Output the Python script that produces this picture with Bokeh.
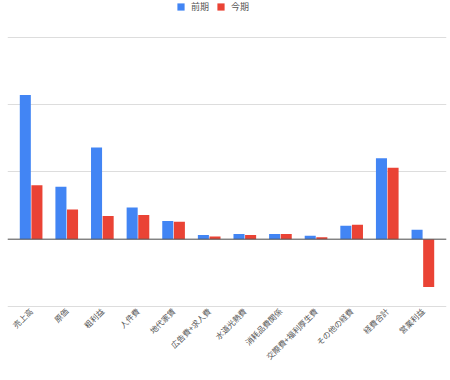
import math
from bokeh.plotting import figure
from bokeh.models import (ColumnDataSource, FactorRange, Legend, LegendItem,
                          FixedTicker, Span)
from bokeh.transform import dodge
from bokeh.embed import file_html
from bokeh.resources import INLINE

categories = ["売上高", "原価", "粗利益", "人件費", "地代家賃", "広告費+求人費",
              "水道光熱費", "消耗品費関係", "交際費+福利厚生費", "その他の経費",
              "経費合計", "営業利益"]
prev_period = [2140, 780, 1360, 470, 270, 60, 75, 75, 50, 200, 1200, 140]
curr_period = [800, 440, 345, 360, 260, 40, 60, 75, 30, 215, 1060, -710]
series_names = ["前期", "今期"]
y_ticks = [-1000, 0, 1000, 2000, 3000]

FONT = "Noto Sans CJK JP"
BLUE = "#4285F4"
RED = "#EA4335"
FRAME_H = 308

src = ColumnDataSource(dict(cat=categories, prev=prev_period, curr=curr_period))

x_range = FactorRange(factors=categories, range_padding=0.0272)
p = figure(x_range=x_range, y_range=(-1030, 3545),
           frame_width=439, frame_height=FRAME_H,
           output_backend="svg", toolbar_location=None,
           min_border_left=7, min_border_right=4, min_border_top=0,
           min_border_bottom=0, outline_line_color=None)

r1 = p.vbar(x=dodge("cat", -0.163, range=p.x_range), top="prev", width=0.31,
            source=src, fill_color=BLUE, line_color=None)
r2 = p.vbar(x=dodge("cat", 0.163, range=p.x_range), top="curr", width=0.31,
            source=src, fill_color=RED, line_color=None)

p.yaxis.visible = False
p.yaxis.ticker = FixedTicker(ticks=y_ticks)
p.ygrid.ticker = FixedTicker(ticks=y_ticks)
p.ygrid.grid_line_color = "#dddddd"
p.xgrid.grid_line_color = None

zero = Span(location=0, dimension="width", line_color="#555555", line_width=1)
p.add_layout(zero)

ax = p.xaxis[0]
ax.axis_line_color = None
ax.major_tick_line_color = None
ax.minor_tick_line_color = None
ax.major_tick_out = 0
ax.major_tick_in = 0
ax.minor_tick_out = 0
ax.minor_tick_in = 0
ax.major_label_orientation = math.pi / 4
ax.major_label_text_font = FONT
ax.major_label_text_font_size = "8px"
ax.major_label_text_color = "#555555"
ax.major_label_standoff = 1

legend = Legend(items=[LegendItem(label=series_names[0], renderers=[r1]),
                       LegendItem(label=series_names[1], renderers=[r2])],
                orientation="horizontal", location=(169, FRAME_H - 13),
                margin=0, padding=0, spacing=5,
                glyph_width=9, glyph_height=9, label_height=9,
                label_standoff=6, label_text_font=FONT,
                label_text_font_size="9px", label_text_color="#555555",
                border_line_color=None, background_fill_alpha=0)
p.add_layout(legend, "center")

open("out.html", "w").write(file_html(p, INLINE))
